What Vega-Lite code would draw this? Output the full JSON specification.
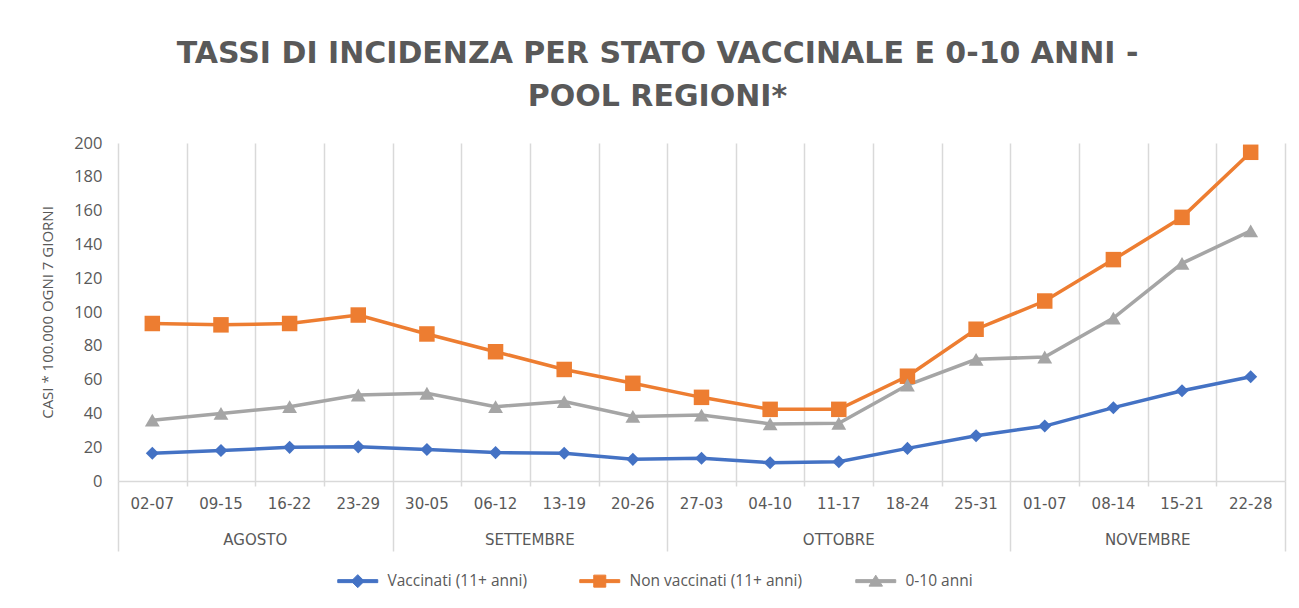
{
  "$schema": "https://vega.github.io/schema/vega-lite/v6.json",
  "width": 1167,
  "height": 338,
  "autosize": {"type": "none"},
  "padding": {"left": 118, "top": 143, "right": 14, "bottom": 127},
  "background": "white",
  "config": {
    "view": {"stroke": null},
    "font": "Open Sans",
    "legend": {
      "labelFont": "Open Sans",
      "labelFontSize": 15.5,
      "labelColor": "#595959",
      "labelLimit": 0,
      "symbolSize": 100,
      "symbolOpacity": 1,
      "symbolStrokeWidth": 1,
      "labelOffset": 22,
      "columnPadding": 50
    }
  },
  "title": {
    "text": ["TASSI DI INCIDENZA PER STATO VACCINALE E 0-10 ANNI -", "POOL REGIONI*"],
    "anchor": "middle",
    "frame": "group",
    "dx": -44,
    "offset": 23,
    "font": "DejaVu Sans",
    "fontSize": 30,
    "fontWeight": "bold",
    "color": "#595959",
    "lineHeight": 43
  },
  "data": {
    "values": [
      {"i": 0, "week": "02-07", "month": "AGOSTO", "serie": "Vaccinati (11+ anni)", "valore": 16.4},
      {"i": 1, "week": "09-15", "month": "AGOSTO", "serie": "Vaccinati (11+ anni)", "valore": 18.0},
      {"i": 2, "week": "16-22", "month": "AGOSTO", "serie": "Vaccinati (11+ anni)", "valore": 19.9},
      {"i": 3, "week": "23-29", "month": "AGOSTO", "serie": "Vaccinati (11+ anni)", "valore": 20.2},
      {"i": 4, "week": "30-05", "month": "SETTEMBRE", "serie": "Vaccinati (11+ anni)", "valore": 18.7},
      {"i": 5, "week": "06-12", "month": "SETTEMBRE", "serie": "Vaccinati (11+ anni)", "valore": 16.8},
      {"i": 6, "week": "13-19", "month": "SETTEMBRE", "serie": "Vaccinati (11+ anni)", "valore": 16.4},
      {"i": 7, "week": "20-26", "month": "SETTEMBRE", "serie": "Vaccinati (11+ anni)", "valore": 12.8},
      {"i": 8, "week": "27-03", "month": "OTTOBRE", "serie": "Vaccinati (11+ anni)", "valore": 13.4},
      {"i": 9, "week": "04-10", "month": "OTTOBRE", "serie": "Vaccinati (11+ anni)", "valore": 10.8},
      {"i": 10, "week": "11-17", "month": "OTTOBRE", "serie": "Vaccinati (11+ anni)", "valore": 11.4},
      {"i": 11, "week": "18-24", "month": "OTTOBRE", "serie": "Vaccinati (11+ anni)", "valore": 19.3},
      {"i": 12, "week": "25-31", "month": "OTTOBRE", "serie": "Vaccinati (11+ anni)", "valore": 26.8},
      {"i": 13, "week": "01-07", "month": "NOVEMBRE", "serie": "Vaccinati (11+ anni)", "valore": 32.5},
      {"i": 14, "week": "08-14", "month": "NOVEMBRE", "serie": "Vaccinati (11+ anni)", "valore": 43.4},
      {"i": 15, "week": "15-21", "month": "NOVEMBRE", "serie": "Vaccinati (11+ anni)", "valore": 53.4},
      {"i": 16, "week": "22-28", "month": "NOVEMBRE", "serie": "Vaccinati (11+ anni)", "valore": 61.7},
      {"i": 0, "week": "02-07", "month": "AGOSTO", "serie": "Non vaccinati (11+ anni)", "valore": 93.2},
      {"i": 1, "week": "09-15", "month": "AGOSTO", "serie": "Non vaccinati (11+ anni)", "valore": 92.4},
      {"i": 2, "week": "16-22", "month": "AGOSTO", "serie": "Non vaccinati (11+ anni)", "valore": 93.2},
      {"i": 3, "week": "23-29", "month": "AGOSTO", "serie": "Non vaccinati (11+ anni)", "valore": 98.2},
      {"i": 4, "week": "30-05", "month": "SETTEMBRE", "serie": "Non vaccinati (11+ anni)", "valore": 87.0},
      {"i": 5, "week": "06-12", "month": "SETTEMBRE", "serie": "Non vaccinati (11+ anni)", "valore": 76.5},
      {"i": 6, "week": "13-19", "month": "SETTEMBRE", "serie": "Non vaccinati (11+ anni)", "valore": 66.0},
      {"i": 7, "week": "20-26", "month": "SETTEMBRE", "serie": "Non vaccinati (11+ anni)", "valore": 57.8},
      {"i": 8, "week": "27-03", "month": "OTTOBRE", "serie": "Non vaccinati (11+ anni)", "valore": 49.5},
      {"i": 9, "week": "04-10", "month": "OTTOBRE", "serie": "Non vaccinati (11+ anni)", "valore": 42.4},
      {"i": 10, "week": "11-17", "month": "OTTOBRE", "serie": "Non vaccinati (11+ anni)", "valore": 42.4},
      {"i": 11, "week": "18-24", "month": "OTTOBRE", "serie": "Non vaccinati (11+ anni)", "valore": 62.0},
      {"i": 12, "week": "25-31", "month": "OTTOBRE", "serie": "Non vaccinati (11+ anni)", "valore": 89.8},
      {"i": 13, "week": "01-07", "month": "NOVEMBRE", "serie": "Non vaccinati (11+ anni)", "valore": 106.5},
      {"i": 14, "week": "08-14", "month": "NOVEMBRE", "serie": "Non vaccinati (11+ anni)", "valore": 131.0},
      {"i": 15, "week": "15-21", "month": "NOVEMBRE", "serie": "Non vaccinati (11+ anni)", "valore": 156.0},
      {"i": 16, "week": "22-28", "month": "NOVEMBRE", "serie": "Non vaccinati (11+ anni)", "valore": 194.5},
      {"i": 0, "week": "02-07", "month": "AGOSTO", "serie": "0-10 anni", "valore": 36.0},
      {"i": 1, "week": "09-15", "month": "AGOSTO", "serie": "0-10 anni", "valore": 40.0},
      {"i": 2, "week": "16-22", "month": "AGOSTO", "serie": "0-10 anni", "valore": 44.0},
      {"i": 3, "week": "23-29", "month": "AGOSTO", "serie": "0-10 anni", "valore": 50.9},
      {"i": 4, "week": "30-05", "month": "SETTEMBRE", "serie": "0-10 anni", "valore": 51.9},
      {"i": 5, "week": "06-12", "month": "SETTEMBRE", "serie": "0-10 anni", "valore": 44.0},
      {"i": 6, "week": "13-19", "month": "SETTEMBRE", "serie": "0-10 anni", "valore": 47.0},
      {"i": 7, "week": "20-26", "month": "SETTEMBRE", "serie": "0-10 anni", "valore": 38.2},
      {"i": 8, "week": "27-03", "month": "OTTOBRE", "serie": "0-10 anni", "valore": 39.0},
      {"i": 9, "week": "04-10", "month": "OTTOBRE", "serie": "0-10 anni", "valore": 33.8},
      {"i": 10, "week": "11-17", "month": "OTTOBRE", "serie": "0-10 anni", "valore": 34.2},
      {"i": 11, "week": "18-24", "month": "OTTOBRE", "serie": "0-10 anni", "valore": 56.8},
      {"i": 12, "week": "25-31", "month": "OTTOBRE", "serie": "0-10 anni", "valore": 72.0},
      {"i": 13, "week": "01-07", "month": "NOVEMBRE", "serie": "0-10 anni", "valore": 73.4},
      {"i": 14, "week": "08-14", "month": "NOVEMBRE", "serie": "0-10 anni", "valore": 96.4},
      {"i": 15, "week": "15-21", "month": "NOVEMBRE", "serie": "0-10 anni", "valore": 128.8},
      {"i": 16, "week": "22-28", "month": "NOVEMBRE", "serie": "0-10 anni", "valore": 148.0}
    ]
  },
  "encoding": {
    "x": {
      "field": "i",
      "type": "quantitative",
      "scale": {"domain": [-0.5, 16.5], "nice": false, "zero": false},
      "axis": {
        "title": null,
        "values": [-0.5, 0.5, 1.5, 2.5, 3.5, 4.5, 5.5, 6.5, 7.5, 8.5, 9.5, 10.5, 11.5, 12.5, 13.5, 14.5, 15.5, 16.5],
        "labels": false,
        "grid": true,
        "gridColor": "#d9d9d9",
        "gridWidth": 1.5,
        "domainColor": "#d9d9d9",
        "domainWidth": 1.5,
        "tickColor": "#d9d9d9",
        "tickWidth": 1.5,
        "tickSize": {
          "condition": {"test": "datum.value == -0.5 || datum.value == 3.5 || datum.value == 7.5 || datum.value == 12.5 || datum.value == 16.5", "value": 70},
          "value": 5
        }
      }
    },
    "y": {
      "field": "valore",
      "type": "quantitative",
      "scale": {"domain": [0, 200], "nice": false},
      "axis": {
        "title": "CASI * 100.000 OGNI 7 GIORNI",
        "titleFont": "Open Sans",
        "titleFontSize": 15,
        "titleFontWeight": "normal",
        "titleColor": "#595959",
        "titlePadding": 18,
        "values": [0, 20, 40, 60, 80, 100, 120, 140, 160, 180, 200],
        "labelFont": "Open Sans",
        "labelFontSize": 16.5,
        "labelColor": "#595959",
        "labelPadding": 16,
        "grid": false,
        "domain": false,
        "ticks": false
      }
    }
  },
  "layer": [
    {
      "mark": {"type": "line", "strokeWidth": 3.5},
      "encoding": {
        "stroke": {
          "field": "serie",
          "type": "nominal",
          "scale": {"domain": ["Vaccinati (11+ anni)", "Non vaccinati (11+ anni)", "0-10 anni"], "range": ["#4472C4", "#ED7D31", "#A5A5A5"]},
          "legend": {"title": null, "orient": "none", "direction": "horizontal", "legendX": 232, "legendY": 430, "symbolOpacity": 1, "symbolSize": 100, "symbolStrokeWidth": 1}
        }
      }
    },
    {
      "transform": [{"filter": "datum.serie == 'Vaccinati (11+ anni)'"}],
      "mark": {"type": "point", "filled": true, "opacity": 1, "shape": "diamond", "size": 170, "color": "#4472C4"}
    },
    {
      "transform": [{"filter": "datum.serie == 'Non vaccinati (11+ anni)'"}],
      "mark": {"type": "point", "filled": true, "opacity": 1, "shape": "square", "size": 240, "color": "#ED7D31"}
    },
    {
      "transform": [{"filter": "datum.serie == '0-10 anni'"}],
      "mark": {"type": "point", "filled": true, "opacity": 1, "shape": "triangle-up", "size": 220, "color": "#A5A5A5"}
    },
    {
      "mark": {"type": "point", "filled": true, "opacity": 0, "size": 100},
      "encoding": {
        "color": {
          "field": "serie",
          "type": "nominal",
          "scale": {"domain": ["Vaccinati (11+ anni)", "Non vaccinati (11+ anni)", "0-10 anni"], "range": ["#4472C4", "#ED7D31", "#A5A5A5"]},
          "legend": {"title": null, "orient": "none", "direction": "horizontal", "legendX": 232, "legendY": 430, "symbolOpacity": 1, "symbolSize": 100, "symbolStrokeWidth": 1}
        },
        "shape": {
          "field": "serie",
          "type": "nominal",
          "scale": {
            "domain": ["Vaccinati (11+ anni)", "Non vaccinati (11+ anni)", "0-10 anni"],
            "range": [
              "M-4,-0.3H4V0.3H-4ZM0,-1.3L1.3,0L0,1.3L-1.3,0Z",
              "M-4,-0.3H4V0.3H-4ZM-1.2,-1.2H1.2V1.2H-1.2Z",
              "M-4,-0.3H4V0.3H-4ZM0,-1.2L1.35,1H-1.35Z"
            ]
          },
          "legend": {"title": null, "orient": "none", "direction": "horizontal", "legendX": 232, "legendY": 430, "symbolOpacity": 1, "symbolSize": 100, "symbolStrokeWidth": 1}
        }
      }
    },
    {
      "transform": [{"filter": "datum.serie == 'Vaccinati (11+ anni)'"}],
      "mark": {"type": "text", "dy": 23, "baseline": "middle", "align": "center", "fontSize": 15, "font": "DejaVu Sans", "color": "#595959"},
      "encoding": {
        "y": {"datum": 0, "type": "quantitative"},
        "text": {"field": "week", "type": "nominal"}
      }
    },
    {
      "transform": [
        {"filter": "datum.serie == 'Vaccinati (11+ anni)'"},
        {"joinaggregate": [{"op": "mean", "field": "i", "as": "mi"}, {"op": "min", "field": "i", "as": "first"}], "groupby": ["month"]},
        {"filter": "datum.i == datum.first"}
      ],
      "mark": {"type": "text", "dy": 59, "baseline": "middle", "align": "center", "fontSize": 15, "font": "DejaVu Sans", "color": "#595959"},
      "encoding": {
        "x": {"field": "mi", "type": "quantitative"},
        "y": {"datum": 0, "type": "quantitative"},
        "text": {"field": "month", "type": "nominal"}
      }
    }
  ]
}
